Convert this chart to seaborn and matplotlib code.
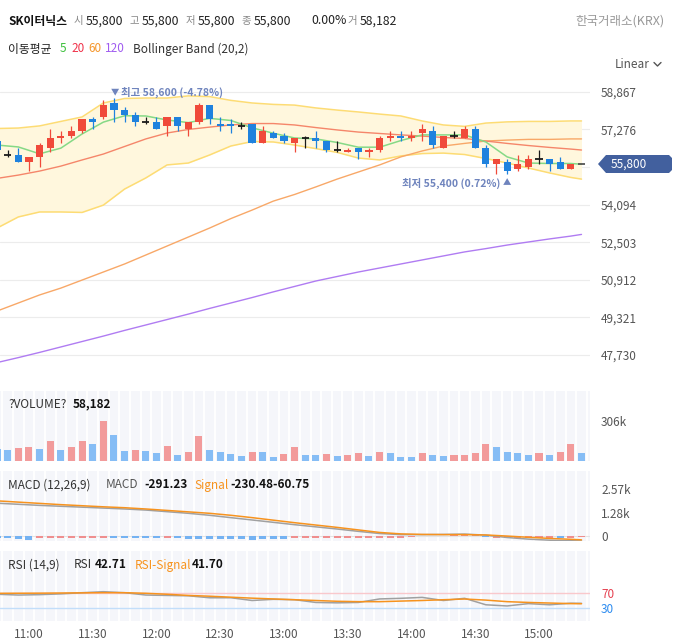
import matplotlib
matplotlib.use('Agg')
import matplotlib.pyplot as plt
import seaborn as sns
import numpy as np
from matplotlib.patches import Polygon
from matplotlib.lines import Line2D

sns.set_theme(style='white')
plt.rcParams['font.family'] = ['Noto Sans CJK KR', 'DejaVu Sans']

# ---------------- data ----------------
candle_times = ["10:45","10:50","10:55","11:00","11:05","11:10","11:15","11:20","11:25","11:30",
                "11:35","11:40","11:45","11:50","11:55","12:00","12:05","12:10","12:15","12:20",
                "12:25","12:30","12:35","12:40","12:45","12:50","12:55","13:00","13:05","13:10",
                "13:15","13:20","13:25","13:30","13:35","13:40","13:45","13:50","13:55","14:00",
                "14:05","14:10","14:15","14:20","14:25","14:30","14:35","14:40","14:45","14:50",
                "14:55","15:00","15:05","15:10","15:15","15:20"]
opens  = [56800,56200,56200,55900,56100,56500,56900,57000,57200,57700,
          57800,58400,58100,57900,57600,57600,57400,57800,57300,57600,
          58300,57500,57500,57400,57500,56700,57100,57000,56700,56900,
          56900,56800,56400,56300,56500,56300,56400,56900,57000,56900,
          57100,57200,56500,57000,56900,57300,56500,55800,55900,55600,
          55700,56000,56000,55900,55600,55800]
highs  = [56900,56400,56500,56100,56700,57300,57200,57400,57700,57800,
          58500,58600,58200,58000,57800,57800,57800,57800,57600,58400,
          58300,57800,57700,57600,57500,57400,57200,57100,56900,57000,
          57200,56800,56800,56500,56500,56500,57000,57200,57200,57200,
          57500,57400,57000,57200,57400,57400,56600,56000,56000,56200,
          56200,56400,56000,56100,55800,55800]
lows   = [56300,56100,55900,55500,55700,56300,56700,56900,57100,57300,
          57700,57600,57600,57400,57500,57300,57000,57200,57000,57500,
          57500,57200,57100,57300,56700,56700,56900,56700,56300,56500,
          56500,56300,56300,56300,56000,56100,56300,56800,56800,56800,
          56800,56500,56500,56900,56900,56500,55700,55400,55400,55500,
          55600,55800,55500,55600,55600,55800]
closes = [56400,56200,55900,56100,56600,56900,57000,57200,57700,57600,
          58300,58100,57900,57600,57600,57300,57800,57400,57600,58300,
          57700,57400,57400,57400,56700,57200,56900,56800,56900,56900,
          56800,56400,56400,56400,56300,56400,56900,57000,56900,57000,
          57300,56600,57000,57000,57300,56500,55800,56000,55500,55800,
          56000,56000,55800,55600,55800,55800]
volumes = [90000,82000,97000,105000,89000,151000,82000,105000,151000,128000,
           306000,197000,74000,82000,74000,59000,112000,44000,67000,189000,
           82000,67000,51000,36000,67000,67000,28000,51000,105000,44000,
           44000,51000,38000,44000,61000,38000,69000,61000,31000,31000,
           61000,44000,38000,44000,44000,61000,130000,107000,69000,61000,
           44000,61000,44000,69000,130000,58182]
volume_up = [0,0,1,1,0,1,0,1,1,0, 1,0,0,1,0,0,1,0,1,1, 0,0,0,0,1,0,0,1,1,0,
             0,1,0,1,1,0,1,0,0,0, 1,0,0,1,1,1,1,0,0,0, 0,1,0,1,1,0]
macd_hist = [-150,-140,-170,-230,-150,-140,-140,-140,-140,-130,
             -110,-130,-140,-150,-150,-150,-130,-150,-160,-170,
             -170,-170,-180,-190,-250,-190,-180,-170,-150,-150,
             -150,-150,-150,-150,-150,-140,-130,-120,-110,-80,
             -40,-30,-20,20,20,30,-80,-110,-120,-130,
             -130,-120,-120,-140,-110,-100]
hist_up = [0,0,0,0,1,1,1,1,1,1, 1,0,0,0,0,0,1,0,0,0, 0,0,0,0,0,0,0,0,1,1,
           1,1,1,1,1,1,1,1,1,1, 1,0,0,1,1,1,0,1,1,1, 1,1,1,0,1,1]

line_times = ["10:45","10:55","11:05","11:15","11:25","11:35","11:45","11:55","12:05","12:15",
              "12:25","12:35","12:45","12:55","13:05","13:15","13:25","13:35","13:45","13:55",
              "14:05","14:15","14:25","14:35","14:45","14:55","15:05","15:15","15:20"]
bb_upper = [57310,57330,57420,57610,57800,58390,58580,58600,58600,58690,
            58660,58500,58390,58330,58300,58180,58090,58010,57920,57840,
            57630,57460,57400,57540,57590,57610,57610,57630,57630]
bb_lower = [53100,53570,53780,53780,53760,54070,54750,55220,55770,55850,
            56190,56570,56760,56740,56610,56460,56300,56060,55980,56150,
            56250,56270,56210,56040,55850,55640,55430,55240,55170]
ma5 = [56610,56530,56240,56480,57080,57580,57850,57840,57670,57560,
       57740,57650,57340,57110,56910,56870,56720,56520,56520,56800,
       57040,57040,57040,56740,56110,55850,55830,55830,55800]
ma20 = [55200,55340,55510,55720,55980,56230,56550,56870,57120,57270,
        57370,57460,57520,57520,57460,57350,57250,57160,57100,57040,
        56990,56930,56890,56780,56680,56590,56510,56440,56400]
ma60 = [49590,49930,50270,50560,50900,51240,51580,51960,52340,52720,
        53100,53500,53860,54240,54520,54840,55170,55470,55770,56110,
        56360,56570,56680,56780,56820,56850,56850,56870,56870]
ma120 = [47410,47620,47840,48070,48300,48530,48770,49000,49230,49460,
         49700,49930,50160,50400,50630,50860,51050,51240,51410,51580,
         51750,51920,52090,52230,52380,52510,52640,52760,52830]
macd_line = [1800,1740,1680,1630,1580,1530,1480,1420,1330,1240,
             1130,1000,870,740,610,490,370,240,120,60,
             60,70,90,30,-100,-190,-250,-280,-291.23]
macd_signal = [1930,1860,1790,1720,1660,1600,1550,1480,1400,1320,
               1240,1130,1000,860,720,590,460,320,180,100,
               70,60,60,40,-20,-90,-150,-200,-230.48]
rsi = [66,64,65,67,70,72.6,70,64,63,62,
       57,57,50,53,52,45,44,45,54,55.6,
       58,50,55.6,39,36,42,39,43,42.71]
rsi_signal = [68.4,68.6,68.8,69.2,69.6,70,70,68.5,66,63,
              61,58.5,56,54,52,50,48,47,47,48.5,
              50,52,53.8,51,47,45,43.5,42,41.70]

price_ticks = [58867, 57276, 55685, 54094, 52503, 50912, 49321, 47730]
price_tick_labels = ["58,867", "57,276", "", "54,094", "52,503", "50,912", "49,321", "47,730"]
time_tick_labels = ["11:00", "11:30", "12:00", "12:30", "13:00", "13:30", "14:00", "14:30", "15:00"]
high_label = "최고 58,600 (-4.78%)"
low_label = "최저 55,400 (0.72%)"

# ---------------- helpers ----------------
W, H = 674, 641


def pos(t):
    h, m = t.split(':')
    return (int(h) * 60 + int(m) - 645) / 5.0


cx = np.array([pos(t) for t in candle_times])
lx = np.array([pos(t) for t in line_times])
XLIM = (0.273, 55.8)

RED = '#f04a3a'
BLUE = '#1f82de'
VRED = '#f29b9b'
VBLUE = '#86bdf5'
HRED = '#ef8e8e'
HBLUE = '#74b2f2'
STRIPE_BG = '#f5f6fa'

fig = plt.figure(figsize=(W / 100, H / 100), dpi=100)
fig.patch.set_facecolor('white')


def add_axes_px(y_top, y_bot, x0=0, x1=590):
    return fig.add_axes([x0 / W, 1 - y_bot / H, (x1 - x0) / W, (y_bot - y_top) / H])


def ftext(x, y, s, **kw):
    kw.setdefault('va', 'center')
    fig.text(x / W, 1 - y / H, s, **kw)


def base_style(ax):
    for sp in ax.spines.values():
        sp.set_visible(False)
    ax.set_xlim(*XLIM)
    ax.set_xticks([])
    ax.yaxis.tick_right()
    ax.tick_params(axis='y', length=0, pad=8, labelsize=8.5, labelcolor='#555555',
                   right=True, labelright=True, left=False, labelleft=False)
    ax.set_xlabel('')
    ax.set_ylabel('')


def stripes(ax):
    ax.set_facecolor(STRIPE_BG)
    bounds = np.arange(0.5, 56, 1.0)
    ax.vlines(bounds, 0, 1, transform=ax.get_xaxis_transform(), colors='white',
              linewidth=1.4, zorder=0.5)


# ---------------- price panel ----------------
axp = add_axes_px(80, 381)
axp.set_facecolor('white')
axp.set_ylim(46630, 59362)
axp.set_yticks(price_ticks)
axp.set_yticklabels(price_tick_labels)
axp.yaxis.grid(True, color='#ececec', linewidth=0.8)
axp.set_axisbelow(True)

axp.fill_between(lx, bb_lower, bb_upper, color='#fff7dd', zorder=1, linewidth=0)
sns.lineplot(x=lx, y=bb_upper, ax=axp, color='#fddc74', linewidth=1.1, sort=False, zorder=2)
sns.lineplot(x=lx, y=bb_lower, ax=axp, color='#fddc74', linewidth=1.1, sort=False, zorder=2)
sns.lineplot(x=lx, y=ma120, ax=axp, color='#b07cf2', linewidth=1.0, sort=False, zorder=2)
sns.lineplot(x=lx, y=ma60, ax=axp, color='#f8a868', linewidth=1.0, sort=False, zorder=2)
sns.lineplot(x=lx, y=ma20, ax=axp, color='#f5866a', linewidth=1.0, sort=False, zorder=2)
sns.lineplot(x=lx, y=ma5, ax=axp, color='#86d986', linewidth=1.1, sort=False, zorder=2)

bw = 0.68
for i in range(len(cx)):
    o, h, l, c = opens[i], highs[i], lows[i], closes[i]
    if i == len(cx) - 1:
        col = '#555555'
    elif c > o:
        col = RED
    elif c < o:
        col = BLUE
    else:
        col = '#1a1a1a'
    axp.vlines(cx[i], l, h, colors=col, linewidth=0.9, zorder=4)
    if c != o:
        axp.bar(cx[i], abs(c - o), bottom=min(o, c), width=bw, color=col, linewidth=0, zorder=5)
    else:
        axp.hlines(c, cx[i] - bw / 2, cx[i] + bw / 2, colors=col, linewidth=1.3, zorder=5)
base_style(axp)
axp.tick_params(axis='y', pad=8)

# annotations high / low
ann_col = '#6f84bd'
ftext(115, 92, "▼", color=ann_col, fontsize=6, ha='center')
ftext(121, 92, high_label, color=ann_col, fontsize=7.5, fontweight='bold')
ftext(500, 183, low_label, color=ann_col, fontsize=7.5, fontweight='bold', ha='right')
ftext(507, 183, "▲", color=ann_col, fontsize=6, ha='center')

# current price tag
tag_px = [(598, 164), (606, 155), (669, 155), (672, 158), (672, 170), (669, 173), (606, 173)]
tag = Polygon([(x / W, 1 - y / H) for x, y in tag_px], closed=True, transform=fig.transFigure,
              facecolor='#42609e', edgecolor='none', zorder=20)
fig.add_artist(tag)
ftext(629, 164, "55,800", color='white', fontsize=8.5, ha='center', zorder=21)

# ---------------- volume panel ----------------
axv = add_axes_px(391, 461)
stripes(axv)
axv.set_ylim(0, 531500)
vcols = [VRED if u else VBLUE for u in volume_up]
axv.bar(cx, volumes, width=0.66, color=vcols, linewidth=0, zorder=3)
base_style(axv)
axv.set_yticks([306000])
axv.set_yticklabels(['306k'])
ftext(8, 404, "?VOLUME?", color='#333333', fontsize=8.5)
ftext(73, 404, "58,182", color='#111111', fontsize=8.5, fontweight='bold')

# ---------------- MACD panel ----------------
axm = add_axes_px(471, 541)
stripes(axm)
axm.set_ylim(-294, 3584)
axm.axhline(0, color='#e3e3e3', linewidth=0.8, zorder=1)
hcols = [HRED if u else HBLUE for u in hist_up]
axm.bar(cx, macd_hist, width=0.66, color=hcols, linewidth=0, zorder=3)
sns.lineplot(x=lx, y=macd_line, ax=axm, color='#a0a0a0', linewidth=1.1, sort=False, zorder=4)
sns.lineplot(x=lx, y=macd_signal, ax=axm, color='#f7931e', linewidth=1.1, sort=False, zorder=5)
base_style(axm)
axm.set_yticks([0, 1280, 2570])
axm.set_yticklabels(['0', '1.28k', '2.57k'])
ftext(8, 485, "MACD (12,26,9)", color='#333333', fontsize=8.5)
ftext(106, 485, "MACD", color='#555555', fontsize=8.5)
ftext(144, 485, "-291.23", color='#111111', fontsize=8.5, fontweight='bold')
ftext(194, 485, "Signal", color='#f7931e', fontsize=8.5)
ftext(230, 485, "-230.48-60.75", color='#111111', fontsize=8.5, fontweight='bold')

# ---------------- RSI panel ----------------
axr = add_axes_px(551, 621)
stripes(axr)
axr.set_ylim(-2.6, 177)
axr.axhline(70, color='#f9c8cc', linewidth=1.0, zorder=1)
axr.axhline(30, color='#c2defa', linewidth=1.0, zorder=1)
sns.lineplot(x=lx, y=rsi, ax=axr, color='#a0a0a0', linewidth=1.1, sort=False, zorder=4)
sns.lineplot(x=lx, y=rsi_signal, ax=axr, color='#f7931e', linewidth=1.1, sort=False, zorder=5)
base_style(axr)
axr.set_yticks([30, 70])
axr.set_yticklabels(['30', '70'])
for lab in axr.get_yticklabels():
    lab.set_color('#e5404f' if lab.get_text() == '70' else '#2d8cf0')
axr.set_xticks([pos(t) for t in time_tick_labels])
axr.set_xticklabels(time_tick_labels)
axr.tick_params(axis='x', length=0, pad=5, labelsize=8.5, labelcolor='#555555', bottom=True, labelbottom=True)
ftext(8, 565, "RSI (14,9)", color='#333333', fontsize=8.5)
ftext(74, 565, "RSI", color='#333333', fontsize=8.5)
ftext(95, 565, "42.71", color='#111111', fontsize=8.5, fontweight='bold')
ftext(135, 565, "RSI-Signal", color='#f7931e', fontsize=8.5)
ftext(192, 565, "41.70", color='#111111', fontsize=8.5, fontweight='bold')

# ---------------- header ----------------
ftext(8, 21, "SK이터닉스", color='#111111', fontsize=8.5, fontweight='bold')
hdr = [(86, "시", "55,800"), (142, "고", "55,800"), (198, "저", "55,800"), (254, "종", "55,800")]
for x, lab, num in hdr:
    ftext(x - 3, 21, lab, color='#888888', fontsize=7.5, ha='right')
    ftext(x, 21, num, color='#222222', fontsize=8.8)
ftext(311, 21, "0.00%", color='#222222', fontsize=8.8)
ftext(357, 21, "거", color='#888888', fontsize=7.5, ha='right')
ftext(360, 21, "58,182", color='#222222', fontsize=8.8)
ftext(665, 21, "한국거래소(KRX)", color='#999999', fontsize=9, ha='right')

ftext(8, 49, "이동평균", color='#222222', fontsize=8.5)
ftext(60, 49, "5", color='#3cc03c', fontsize=8.5)
ftext(71, 49, "20", color='#f0324a', fontsize=8.5)
ftext(88, 49, "60", color='#f5962b', fontsize=8.5)
ftext(105, 49, "120", color='#a05cf0', fontsize=8.5)
ftext(133, 49, "Bollinger Band (20,2)", color='#333333', fontsize=8.5)
ftext(615, 64, "Linear", color='#555555', fontsize=8.5)
chev = Line2D([654 / W, 657.5 / W, 661 / W], [1 - 62.5 / H, 1 - 66 / H, 1 - 62.5 / H],
              transform=fig.transFigure, color='#555555', linewidth=1.0)
fig.add_artist(chev)

fig.savefig('out.png', dpi=100, facecolor='white')
